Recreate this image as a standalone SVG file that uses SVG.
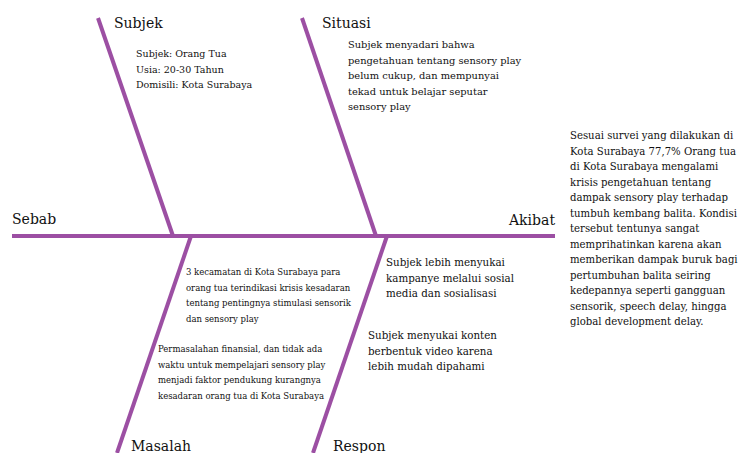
<svg xmlns="http://www.w3.org/2000/svg" width="741" height="453" viewBox="0 0 741 453">
<style>
.bone{stroke:#9c4fa3;stroke-width:4;fill:none;stroke-linecap:butt}
text{font-family:"DejaVu Serif","Liberation Serif",serif;fill:#111}
.t{font-size:14px}
.b{font-size:9.5px}
.bs{font-size:9.9px}
.s{font-size:8.5px}
.r{font-size:10.3px}
.a{font-size:10.15px}
</style>
<rect width="741" height="453" fill="#fff"/>
<g id="connectors">
<line class="bone" x1="12" y1="236" x2="555" y2="236"/>
<line class="bone" x1="98" y1="18" x2="173" y2="236"/>
<line class="bone" x1="302" y1="18" x2="376" y2="236"/>
<line class="bone" x1="191" y1="236" x2="117" y2="453"/>
<line class="bone" x1="387" y1="236" x2="313" y2="453"/>
</g>
<g id="sebab"><text class="t" x="12" y="224">Sebab</text></g>
<g id="akibat"><text class="t" x="509" y="225">Akibat</text>
<text class="a" x="570"><tspan x="570" y="139">Sesuai survei yang dilakukan di</tspan><tspan x="570" y="154.5">Kota Surabaya 77,7% Orang tua</tspan><tspan x="570" y="170">di Kota Surabaya mengalami</tspan><tspan x="570" y="185.5">krisis pengetahuan tentang</tspan><tspan x="570" y="201">dampak sensory play terhadap</tspan><tspan x="570" y="216.5">tumbuh kembang balita. Kondisi</tspan><tspan x="570" y="232">tersebut tentunya sangat</tspan><tspan x="570" y="247.5">memprihatinkan karena akan</tspan><tspan x="570" y="263">memberikan dampak buruk bagi</tspan><tspan x="570" y="278.5">pertumbuhan balita seiring</tspan><tspan x="570" y="294">kedepannya seperti gangguan</tspan><tspan x="570" y="309.5">sensorik, speech delay, hingga</tspan><tspan x="570" y="325">global development delay.</tspan></text></g>
<g id="subjek"><text class="t" x="114" y="28">Subjek</text>
<text class="b"><tspan x="136" y="57">Subjek: Orang Tua</tspan><tspan x="136" y="73">Usia: 20-30 Tahun</tspan><tspan x="136" y="88">Domisili: Kota Surabaya</tspan></text></g>
<g id="situasi"><text class="t" x="322" y="28">Situasi</text>
<text class="bs"><tspan x="348" y="48">Subjek menyadari bahwa</tspan><tspan x="348" y="63.5">pengetahuan tentang sensory play</tspan><tspan x="348" y="79">belum cukup, dan mempunyai</tspan><tspan x="348" y="94.5">tekad untuk belajar seputar</tspan><tspan x="348" y="110">sensory play</tspan></text></g>
<g id="masalah"><text class="t" x="131" y="451">Masalah</text>
<text class="s"><tspan x="186" y="275">3 kecamatan di Kota Surabaya para</tspan><tspan x="186" y="290.5">orang tua terindikasi krisis kesadaran</tspan><tspan x="186" y="306">tentang pentingnya stimulasi sensorik</tspan><tspan x="186" y="321.5">dan sensory play</tspan></text>
<text class="s"><tspan x="158" y="352">Permasalahan finansial, dan tidak ada</tspan><tspan x="158" y="367.5">waktu untuk mempelajari sensory play</tspan><tspan x="158" y="383">menjadi faktor pendukung kurangnya</tspan><tspan x="158" y="398.5">kesadaran orang tua di Kota Surabaya</tspan></text></g>
<g id="respon"><text class="t" x="333" y="451">Respon</text>
<text class="r"><tspan x="386" y="266">Subjek lebih menyukai</tspan><tspan x="386" y="281.5">kampanye melalui sosial</tspan><tspan x="386" y="297">media dan sosialisasi</tspan></text>
<text class="r"><tspan x="368" y="339">Subjek menyukai konten</tspan><tspan x="368" y="354.5">berbentuk video karena</tspan><tspan x="368" y="370">lebih mudah dipahami</tspan></text></g>
</svg>
